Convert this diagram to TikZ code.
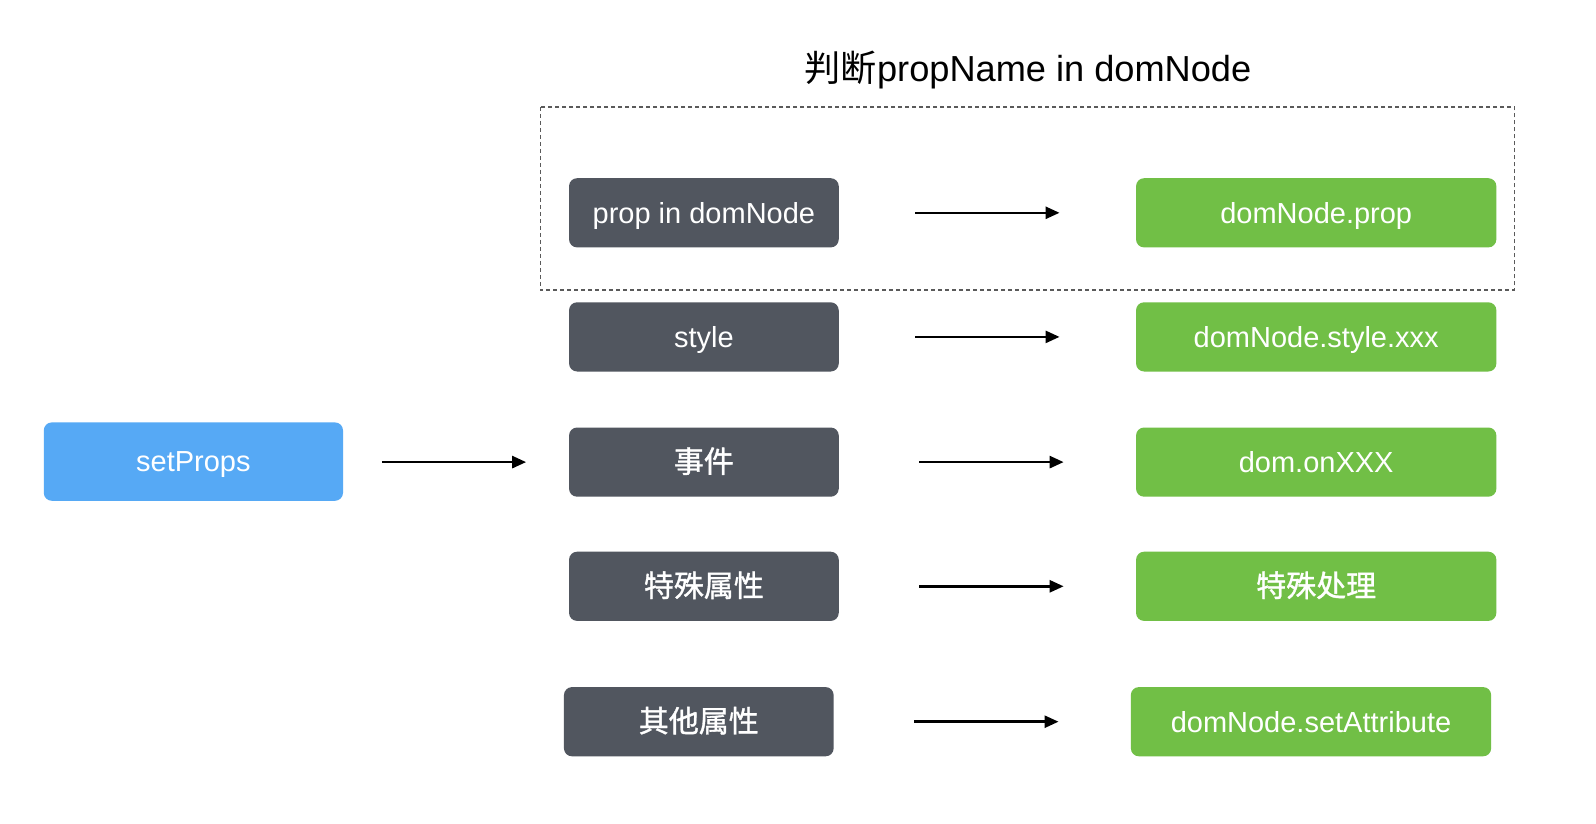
\documentclass[tikz,border=0pt]{standalone}
\usepackage{fontspec}
\setmainfont{Liberation Sans}
\newfontfamily\cjk{Noto Sans CJK SC}
\newfontfamily\cjkm[FakeBold=1.2]{Noto Sans CJK SC}
\usetikzlibrary{arrows.meta}
\definecolor{darkbox}{RGB}{81,86,95}
\definecolor{greenbox}{RGB}{113,191,70}
\definecolor{bluebox}{RGB}{86,169,245}
\definecolor{dashgray}{RGB}{90,90,90}
\tikzset{
  base/.style={rectangle, rounded corners=8pt, inner sep=0pt, text=white,
    font=\fontsize{29}{34}\selectfont, minimum height=69.2pt,
    text height=20.7pt, text depth=0pt},
  darkstyle/.style={base, fill=darkbox, minimum width=269.7pt},
  greenstyle/.style={base, fill=greenbox, minimum width=360.3pt},
  bluestyle/.style={base, fill=bluebox, minimum width=299.2pt, minimum height=78.4pt},
  arr/.style={-{Triangle[length=14pt,width=12pt]}, line width=2.6pt, black},
  zh/.style={font=\fontsize{30}{34}\selectfont\cjkm}
}
\begin{document}
\begin{tikzpicture}[x=1pt,y=-1pt]
\useasboundingbox[fill=white] (0,0) rectangle (1596,824);
\node (title) at (1028,70.5) {\fontsize{36.2}{42}\selectfont{\cjk 判断}propName in domNode};
\coordinate (dtl) at (540.5,106.9);
\coordinate (dbr) at (1514.6,290.1);
\draw[dashgray, line width=1.3pt, dash pattern=on 4pt off 3pt] (dtl) rectangle (dbr);

\node[bluestyle] (sp) at (193.4,461.6) {setProps};

\node[darkstyle] (d1) at (703.9,212.8) {prop in domNode};
\node[darkstyle] (d2) at (703.9,336.9) {style};
\node[darkstyle, zh] (d3) at (703.9,462.1) {事件};
\node[darkstyle, zh] (d4) at (703.9,586.3) {特殊属性};
\node[darkstyle, zh] (d5) at (698.8,721.7) {其他属性};

\node[greenstyle] (g1) at (1316.2,212.8) {domNode.prop};
\node[greenstyle] (g2) at (1316.2,336.9) {domNode.style.xxx};
\node[greenstyle] (g3) at (1316.2,462.1) {dom.onXXX};
\node[greenstyle, zh] (g4) at (1316.2,586.3) {特殊处理};
\node[greenstyle] (g5) at (1311.0,721.7) {domNode.setAttribute};

\draw[arr, shorten <=38.7pt, shorten >=42.7pt] (sp.east |- d3.west) -- (d3.west);
\draw[arr, shorten <=76.3pt, shorten >=76.3pt] (d1.east) -- (g1.west);
\draw[arr, shorten <=76.3pt, shorten >=76.3pt] (d2.east) -- (g2.west);
\draw[arr, shorten <=80.5pt, shorten >=72.2pt] (d3.east) -- (g3.west);
\draw[arr, shorten <=80.5pt, shorten >=72.2pt] (d4.east) -- (g4.west);
\draw[arr, shorten <=80.4pt, shorten >=72.1pt] (d5.east) -- (g5.west);
\end{tikzpicture}
\end{document}
